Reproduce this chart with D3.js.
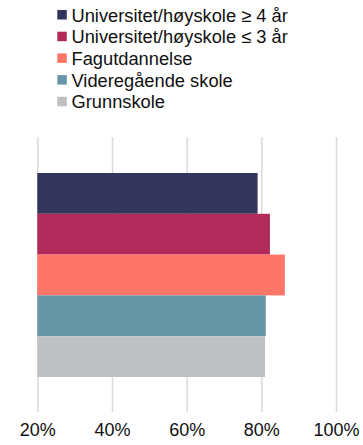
<!DOCTYPE html>
<html><head><meta charset="utf-8">
<script src="https://cdn.jsdelivr.net/npm/d3@7"></script>
<style>body{margin:0;background:#fff}svg{display:block}</style>
</head><body>
<script>
const categories = ["Universitet/høyskole ≥ 4 år","Universitet/høyskole ≤ 3 år","Fagutdannelse","Videregående skole","Grunnskole"];
const values = [0.79, 0.823, 0.863, 0.812, 0.81];
const colors = ["#33355c","#b22a59","#fe7667","#6796a6","#bfc0c2"];
const ticks = [0.2,0.4,0.6,0.8,1.0];

const W=363,H=445;
const svg=d3.select("body").append("svg").attr("width",W).attr("height",H);
const x=d3.scaleLinear().domain([0.2,1.0]).range([37.3,336]);
const y=d3.scaleBand().domain(categories).range([173,377]).padding(0);

const axis=d3.axisBottom(x).tickValues(ticks).tickFormat(d3.format(".0%")).tickSize(412-137).tickPadding(11);
const g=svg.append("g").attr("transform","translate(0,137)").call(axis);
g.select(".domain").remove();
g.selectAll(".tick line").attr("stroke","#d9d9d9").attr("stroke-width",1.5);
g.selectAll(".tick text").attr("fill","#111").style("font-family","'Liberation Sans', Arial, sans-serif").style("font-size","18px");

svg.append("g").selectAll("rect").data(categories).join("rect")
 .attr("x",x(0.2)).attr("y",d=>y(d)).attr("height",y.bandwidth())
 .attr("width",(d,i)=>x(values[i])-x(0.2)).attr("fill",(d,i)=>colors[i]);

const lg=svg.append("g");
categories.forEach((c,i)=>{
  const cy=15+i*21.7;
  lg.append("rect").attr("x",57.3).attr("y",cy-5).attr("width",9.5).attr("height",9.5).attr("fill",colors[i]);
  lg.append("text").attr("x",71.5).attr("y",cy+6.5).text(c).attr("fill","#111")
   .style("font-family","'Liberation Sans', Arial, sans-serif").style("font-size","18.3px");
});
</script>
</body></html>
